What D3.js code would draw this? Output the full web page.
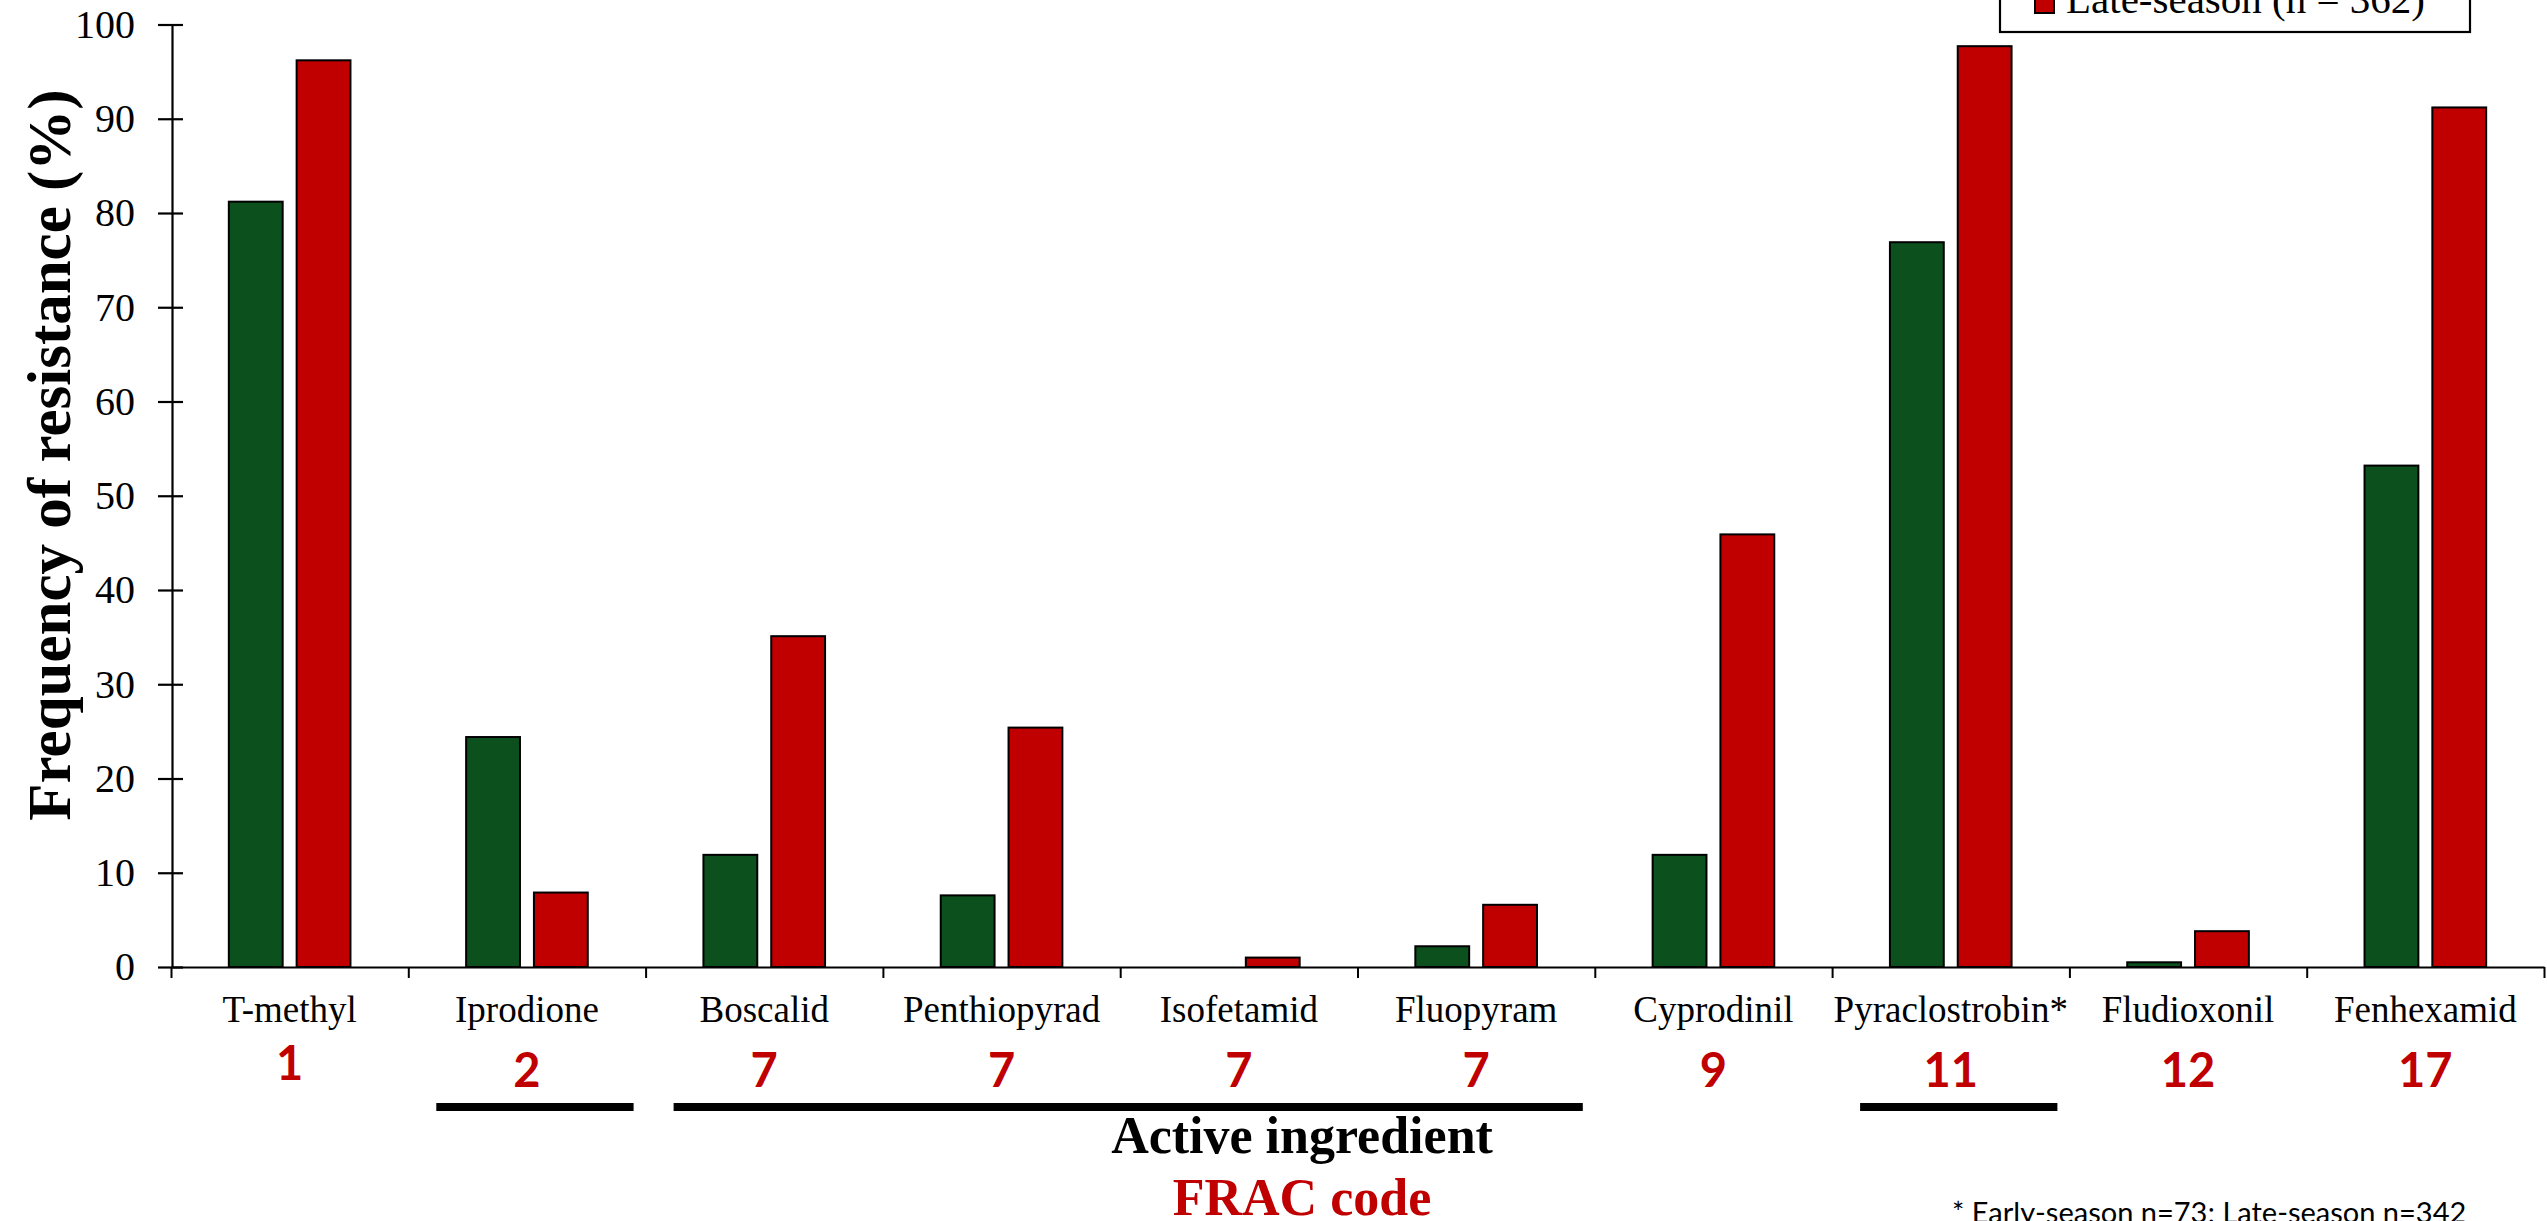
<!DOCTYPE html>
<html>
<head>
<meta charset="utf-8">
<script src="https://cdn.jsdelivr.net/npm/d3@7/dist/d3.min.js"></script>
<style>
  html, body { margin: 0; padding: 0; background: #fff; }
  svg { display: block; }
</style>
</head>
<body>
<script>
// ---------- data ----------
const categories = ["T-methyl", "Iprodione", "Boscalid", "Penthiopyrad", "Isofetamid",
                    "Fluopyram", "Cyprodinil", "Pyraclostrobin*", "Fludioxonil", "Fenhexamid"];
const fracCodes = ["1", "2", "7", "7", "7", "7", "9", "11", "12", "17"];
const earlySeason = [81.2, 24.4, 11.9, 7.6, 0, 2.2, 11.9, 76.9, 0.5, 53.2];
const lateSeason  = [96.2, 7.9, 35.1, 25.4, 1.0, 6.6, 45.9, 97.7, 3.8, 91.2];
const seriesKeys = ["early", "late"];
const legendLabels = ["Late-season (n = 362)"];
const yTicks = [0, 10, 20, 30, 40, 50, 60, 70, 80, 90, 100];
const underlineGroups = [["Iprodione", "Iprodione"], ["Boscalid", "Fluopyram"], ["Pyraclostrobin*", "Pyraclostrobin*"]];
const yTitle = "Frequency of resistance (%)";
const xTitle = "Active ingredient";
const xTitle2 = "FRAC code";
const footnote = "* Early-season n=73; Late-season n=342";

// ---------- styles ----------
const W = 2547, H = 1221;
const GREEN = "#0C501E", RED = "#C00000";
const SERIF = "'Liberation Serif', 'Times New Roman', serif";
const SANS = "Lato, 'Open Sans', sans-serif";

const svg = d3.select("body").append("svg").attr("width", W).attr("height", H);

const x0 = d3.scaleBand().domain(categories).range([171, 2544]).padding(0);
const x1 = d3.scaleBand().domain(seriesKeys).range([0, x0.bandwidth()])
  .paddingInner(0.206).paddingOuter(0.853);
const y = d3.scaleLinear().domain([0, 100]).range([967, 24.5]);
const color = d3.scaleOrdinal().domain(seriesKeys).range([GREEN, RED]);

const rows = categories.map((c, i) => ({ cat: c, early: earlySeason[i], late: lateSeason[i] }));

// bars
const g = svg.append("g");
g.selectAll("g.grp").data(rows).join("g").attr("class", "grp")
  .attr("transform", d => `translate(${x0(d.cat)},0)`)
  .selectAll("rect")
  .data(d => seriesKeys.map(k => ({ key: k, value: d[k] })).filter(e => e.value > 0))
  .join("rect")
  .attr("x", d => x1(d.key))
  .attr("width", x1.bandwidth())
  .attr("y", d => y(d.value))
  .attr("height", d => y(0) - y(d.value))
  .attr("fill", d => color(d.key))
  .attr("stroke", "#000")
  .attr("stroke-width", 2);

// y axis
const yAxis = svg.append("g").attr("transform", "translate(172,0)")
  .call(d3.axisLeft(y).tickValues(yTicks).tickSizeInner(14).tickSizeOuter(0).tickPadding(23));
yAxis.select(".domain").attr("stroke", "#000").attr("stroke-width", 2.2);
yAxis.selectAll(".tick line").attr("x1", 11).attr("stroke", "#000").attr("stroke-width", 2.2);
yAxis.selectAll(".tick text").attr("font-family", SERIF).attr("font-size", 40).attr("fill", "#000");

// x axis (group boundaries)
const xb = d3.scaleLinear().domain([0, categories.length]).range(x0.range());
const xAxis = svg.append("g").attr("transform", `translate(0,${y(0)})`)
  .call(d3.axisBottom(xb).tickValues(d3.range(categories.length + 1)).tickFormat("").tickSizeInner(11).tickSizeOuter(0));
xAxis.select(".domain").attr("stroke", "#000").attr("stroke-width", 2.2);
xAxis.selectAll(".tick line").attr("stroke", "#000").attr("stroke-width", 2);

// category labels
svg.append("g").selectAll("text").data(categories).join("text")
  .attr("x", d => x0(d) + x0.bandwidth() / 2)
  .attr("y", 1022)
  .attr("text-anchor", "middle")
  .attr("font-family", SERIF).attr("font-size", 37)
  .text(d => d);

// FRAC codes
svg.append("g").selectAll("text").data(fracCodes).join("text")
  .attr("x", (d, i) => x0(categories[i]) + x0.bandwidth() / 2)
  .attr("y", (d, i) => i === 0 ? 1080 : 1087)
  .attr("text-anchor", "middle")
  .attr("font-family", SANS).attr("font-weight", "bold").attr("font-size", 47)
  .attr("fill", RED)
  .text(d => d);

// underlines
svg.append("g").selectAll("line").data(underlineGroups).join("line")
  .attr("x1", d => x0(d[0]) + 28)
  .attr("x2", d => x0(d[1]) + x0.bandwidth() - 12)
  .attr("y1", 1107).attr("y2", 1107)
  .attr("stroke", "#000").attr("stroke-width", 8);

// axis titles
svg.append("text")
  .attr("transform", `translate(70,455) rotate(-90)`)
  .attr("text-anchor", "middle")
  .attr("font-family", SERIF).attr("font-weight", "bold").attr("font-size", 61)
  .text(yTitle);

svg.append("text")
  .attr("x", 1302).attr("y", 1153)
  .attr("text-anchor", "middle")
  .attr("font-family", SERIF).attr("font-weight", "bold").attr("font-size", 52)
  .text(xTitle);

svg.append("text")
  .attr("x", 1302).attr("y", 1215)
  .attr("text-anchor", "middle")
  .attr("font-family", SERIF).attr("font-weight", "bold").attr("font-size", 52)
  .attr("fill", RED)
  .text(xTitle2);

// footnote
svg.append("text")
  .attr("x", 1952).attr("y", 1223)
  .attr("font-family", SANS).attr("font-size", 29)
  .text(footnote);

// legend (top part lies above the canvas, as in the reference)
const lg = svg.append("g");
lg.append("rect").attr("x", 2000).attr("y", -80).attr("width", 470).attr("height", 112)
  .attr("fill", "#fff").attr("stroke", "#000").attr("stroke-width", 2.2);
lg.selectAll("rect.sw").data(legendLabels).join("rect").attr("class", "sw")
  .attr("x", 2035).attr("y", -6).attr("width", 19).attr("height", 19)
  .attr("fill", RED).attr("stroke", "#000").attr("stroke-width", 2);
lg.selectAll("text").data(legendLabels).join("text")
  .attr("x", 2066).attr("y", 13)
  .attr("font-family", SERIF).attr("font-size", 41)
  .text(d => d);
</script>
</body>
</html>
